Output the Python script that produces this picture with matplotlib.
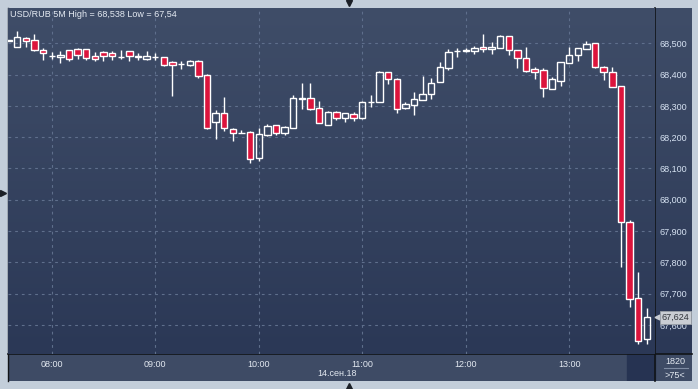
import numpy as np
import matplotlib
matplotlib.use("Agg")
import matplotlib.pyplot as plt
from matplotlib.colors import LinearSegmentedColormap
from matplotlib.lines import Line2D
from matplotlib.transforms import blended_transform_factory

# USD/RUB 5-minute candles, 14.09.18 (07:35 .. 13:45)
times = ["07:35", "07:40", "07:45", "07:50", "07:55",
         "08:00", "08:05", "08:10", "08:15", "08:20", "08:25", "08:30", "08:35", "08:40", "08:45", "08:50", "08:55",
         "09:00", "09:05", "09:10", "09:15", "09:20", "09:25", "09:30", "09:35", "09:40", "09:45", "09:50", "09:55",
         "10:00", "10:05", "10:10", "10:15", "10:20", "10:25", "10:30", "10:35", "10:40", "10:45", "10:50", "10:55",
         "11:00", "11:05", "11:10", "11:15", "11:20", "11:25", "11:30", "11:35", "11:40", "11:45", "11:50", "11:55",
         "12:00", "12:05", "12:10", "12:15", "12:20", "12:25", "12:30", "12:35", "12:40", "12:45", "12:50", "12:55",
         "13:00", "13:05", "13:10", "13:15", "13:20", "13:25", "13:30", "13:35", "13:40", "13:45"]
opens = [68.509, 68.489, 68.517, 68.510, 68.478,
         68.458, 68.455, 68.478, 68.482, 68.482, 68.459, 68.472, 68.469, 68.456, 68.474, 68.457, 68.451,
         68.456, 68.455, 68.439, 68.433, 68.430, 68.443, 68.399, 68.248, 68.276, 68.225, 68.213, 68.216,
         68.133, 68.206, 68.238, 68.214, 68.230, 68.323, 68.324, 68.292, 68.240, 68.281, 68.262, 68.273,
         68.262, 68.311, 68.313, 68.407, 68.385, 68.294, 68.304, 68.318, 68.337, 68.375, 68.422, 68.474,
         68.477, 68.474, 68.488, 68.481, 68.484, 68.522, 68.478, 68.452, 68.418, 68.414, 68.353, 68.381,
         68.438, 68.462, 68.481, 68.500, 68.423, 68.407, 68.364, 67.928, 67.685, 67.554]
highs = [68.511, 68.538, 68.519, 68.530, 68.485,
         68.472, 68.474, 68.480, 68.485, 68.483, 68.471, 68.476, 68.474, 68.479, 68.474, 68.470, 68.475,
         68.468, 68.457, 68.443, 68.443, 68.447, 68.447, 68.402, 68.287, 68.328, 68.228, 68.222, 68.221,
         68.228, 68.242, 68.238, 68.236, 68.335, 68.374, 68.374, 68.316, 68.284, 68.285, 68.276, 68.281,
         68.316, 68.335, 68.412, 68.407, 68.388, 68.313, 68.344, 68.396, 68.390, 68.440, 68.482, 68.484,
         68.484, 68.491, 68.530, 68.505, 68.527, 68.522, 68.478, 68.489, 68.425, 68.420, 68.393, 68.439,
         68.487, 68.484, 68.507, 68.500, 68.427, 68.423, 68.364, 67.935, 67.768, 67.655]
lows = [68.509, 68.489, 68.487, 68.474, 68.448,
        68.451, 68.438, 68.444, 68.451, 68.446, 68.444, 68.444, 68.448, 68.450, 68.444, 68.448, 68.448,
        68.448, 68.427, 68.332, 68.419, 68.427, 68.390, 68.226, 68.193, 68.221, 68.189, 68.212, 68.119,
        68.125, 68.204, 68.206, 68.208, 68.230, 68.291, 68.287, 68.244, 68.240, 68.255, 68.250, 68.253,
        68.259, 68.297, 68.313, 68.370, 68.278, 68.290, 68.271, 68.318, 68.322, 68.375, 68.416, 68.457,
        68.473, 68.465, 68.473, 68.465, 68.484, 68.463, 68.422, 68.409, 68.386, 68.329, 68.353, 68.365,
        68.438, 68.444, 68.481, 68.422, 68.383, 68.359, 67.786, 67.658, 67.540, 67.540]
closes = [68.511, 68.519, 68.506, 68.480, 68.468,
          68.460, 68.463, 68.451, 68.464, 68.454, 68.451, 68.460, 68.458, 68.457, 68.458, 68.458, 68.458,
          68.457, 68.430, 68.430, 68.435, 68.443, 68.395, 68.230, 68.276, 68.228, 68.212, 68.215, 68.129,
          68.209, 68.235, 68.214, 68.232, 68.324, 68.325, 68.291, 68.244, 68.280, 68.262, 68.276, 68.260,
          68.312, 68.313, 68.407, 68.385, 68.291, 68.305, 68.321, 68.337, 68.372, 68.423, 68.471, 68.476,
          68.479, 68.484, 68.481, 68.488, 68.523, 68.478, 68.452, 68.412, 68.409, 68.356, 68.385, 68.439,
          68.462, 68.484, 68.498, 68.425, 68.409, 68.361, 67.930, 67.682, 67.550, 67.624]

hour_labels = ["08:00", "09:00", "10:00", "11:00", "12:00", "13:00"]
price_ticks = [67.6, 67.7, 67.8, 67.9, 68.0, 68.1, 68.2, 68.3, 68.4, 68.5]
title = "USD/RUB 5M High = 68,538 Low = 67,54"
date_label = "14.сен.18"
last_price = closes[-1]

W, H = 698, 389
FONT = "Liberation Sans"
plt.rcParams["font.family"] = [FONT, "DejaVu Sans"]

bg_cmap = LinearSegmentedColormap.from_list("bg", ["#2b3856", "#3f4d68"])
grad = np.linspace(0, 1, 256).reshape(-1, 1)

fig = plt.figure(figsize=(W / 100, H / 100), dpi=100, facecolor="#c3ceda")


def frac(x0, y0, x1, y1):
    return [x0 / W, 1 - y1 / H, (x1 - x0) / W, (y1 - y0) / H]


# x in 5-minute steps from 08:00
def to_idx(t):
    h, m = t.split(":")
    return (int(h) * 60 + int(m) - 480) / 5


x = np.array([to_idx(t) for t in times])
o = np.array(opens)
h = np.array(highs)
l = np.array(lows)
c = np.array(closes)

# side panels
ax_r = fig.add_axes(frac(655, 8, 692, 354))
ax_r.imshow(grad, extent=[0, 1, 0, 1], aspect="auto", cmap=bg_cmap, origin="lower")
ax_r.set_axis_off()

ax_t = fig.add_axes(frac(8, 354, 692, 381))
ax_t.set_xlim(0, 684)
ax_t.set_ylim(0, 1)
ax_t.set_facecolor("#3e4b65")
ax_t.axvspan(619, 647, color="#263352")
ax_t.set_xticks([])
ax_t.set_yticks([])
for s in ax_t.spines.values():
    s.set_visible(False)

ax = fig.add_axes(frac(8, 8, 655, 354))
ax.set_zorder(3)
xlim = (-5.07, 69.95)
ylim = (67.507, 68.613)
ax.imshow(grad, extent=[xlim[0], xlim[1], ylim[0], ylim[1]], aspect="auto",
          cmap=bg_cmap, origin="lower", zorder=0)
ax.set_xlim(*xlim)
ax.set_ylim(*ylim)

ax.set_xticks([to_idx(t) for t in hour_labels])
ax.set_xticklabels(hour_labels)
ax.set_yticks(price_ticks)
ax.set_yticklabels([f"{v:.3f}".replace(".", ",") for v in price_ticks])
ax.yaxis.tick_right()
ax.tick_params(axis="y", length=0, pad=3, labelsize=6.5, labelcolor="#d6e2f2")
ax.tick_params(axis="x", length=0, pad=4.5, labelsize=6.5, labelcolor="#e2e8f0")
ax.grid(True, color="#5f6f8c", linewidth=0.8, linestyle=(0, (2.5, 3.5)), zorder=1)
for s in ax.spines.values():
    s.set_visible(False)

# candles
width = 0.74
up = c >= o
top = np.maximum(o, c)
bot = np.minimum(o, c)
ax.vlines(x, top, h, color="white", linewidth=1.0, zorder=2)
ax.vlines(x, l, bot, color="white", linewidth=1.0, zorder=2)
ax.bar(x[up], (top - bot)[up], bottom=bot[up], width=width, facecolor="none",
       edgecolor="white", linewidth=1.0, zorder=3)
ax.bar(x[~up], (top - bot)[~up], bottom=bot[~up], width=width, facecolor="#dc143c",
       edgecolor="white", linewidth=1.0, zorder=3)

ax.text(0.003, 0.993, title, transform=ax.transAxes, ha="left", va="top",
        fontsize=6.5, color="#e4eaf2", zorder=5)

# last price marker
tr = blended_transform_factory(ax.transAxes, ax.transData)
ax.add_line(Line2D([1.0035], [last_price], transform=tr, marker="<", markersize=3.5,
                   color="#c9cdd3", clip_on=False, zorder=6))
ax.text(1.0105, last_price, f"{last_price:.3f}".replace(".", ","), transform=tr,
        ha="left", va="center", fontsize=6.5, color="#30343a", zorder=7, clip_on=False,
        bbox=dict(boxstyle="square,pad=0.2", fc="#c9cdd3", ec="#9aa0a8", lw=0.6))

# separators
fig.add_artist(Line2D([8 / W, 8 / W], [1 - 8 / H, 1 - 381 / H], color="#111418", lw=1.0))
fig.add_artist(Line2D([655 / W, 655 / W], [1 - 8 / H, 1 - 381 / H], color="#111418", lw=1.2))
fig.add_artist(Line2D([8 / W, 692 / W], [1 - 354 / H, 1 - 354 / H], color="#111418", lw=1.2))

fig.text(337 / W, 1 - 374 / H, date_label, ha="center", va="center", fontsize=6.5, color="#e2e8f0")
fig.text(675 / W, 1 - 362 / H, "1820", ha="center", va="center", fontsize=6.5, color="#e2e8f0")
fig.add_artist(Line2D([664 / W, 688 / W], [1 - 368 / H, 1 - 368 / H], color="#7f8ca3", lw=0.8))
fig.text(675 / W, 1 - 375 / H, ">75<", ha="center", va="center", fontsize=6.5, color="#e2e8f0")

# frame arrows
for (px, py, m) in [(349, 3, "v"), (3, 193, ">"), (349, 386, "^")]:
    fig.add_artist(Line2D([px / W], [1 - py / H], marker=m, markersize=4.5, color="#1b1f26", lw=0))

fig.savefig("out.png", dpi=100, facecolor=fig.get_facecolor())
